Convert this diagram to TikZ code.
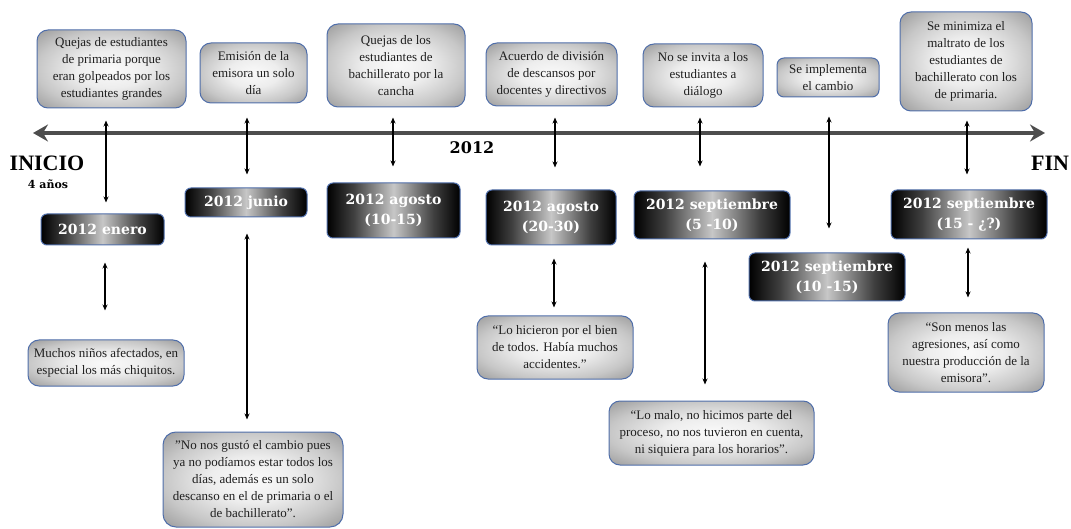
\documentclass[tikz,border=0pt]{standalone}
\usepackage{fontspec}
\setmainfont{Liberation Serif}
\newfontfamily\datefont{DejaVu Serif}
\usetikzlibrary{arrows.meta}

\definecolor{boxblue}{HTML}{4F6EAA}
\definecolor{axisgray}{HTML}{4D4D4D}

% light event boxes: pale centre fading to grey edges
\pgfdeclareradialshading{softbox}{\pgfpoint{0bp}{0bp}}{%
  color(0bp)=(black!2); color(12bp)=(black!7); color(25bp)=(black!22);
  color(36bp)=(black!40); color(50bp)=(black!40)}
% dark date bars: black sides, pale middle
\pgfdeclarehorizontalshading{darkbar}{100bp}{%
  color(0bp)=(black); color(25bp)=(black); color(35bp)=(black!75);
  color(50bp)=(black!22); color(65bp)=(black!75); color(75bp)=(black);
  color(100bp)=(black)}

\tikzset{
  note/.style={draw=boxblue, line width=1pt, rounded corners=11pt,
    shading=softbox, align=center, text=black!88, inner sep=1pt,
    font=\fontsize{13}{17}\selectfont},
  datebox/.style={draw=boxblue, line width=1pt, rounded corners=6pt,
    shading=darkbar, align=center, text=white, inner sep=1pt,
    font=\datefont\fontsize{14}{20}\selectfont\bfseries},
  link/.style={{Stealth[length=6pt,width=5pt]}-{Stealth[length=6pt,width=5pt]},
    line width=1.1pt},
  timeline/.style={draw=axisgray, line width=4pt,
    {Stealth[length=15pt,width=17pt,inset=5pt]}-{Stealth[length=15pt,width=17pt,inset=5pt]}},
  mark label/.style={font=\fontsize{22}{24}\selectfont\bfseries, inner sep=0pt}
}

\begin{document}
\begin{tikzpicture}[x=1pt, y=-1pt]
\useasboundingbox (0,0) rectangle (1071,529);

% main time axis
\coordinate (tlL) at (33,133);
\coordinate (tlR) at (1045,133);
\draw[timeline] (tlL) -- (tlR);

\node[mark label] (inicio) at (47,163) {INICIO};
\node[font=\datefont\fontsize{11}{13}\selectfont\bfseries, inner sep=0pt] (anios) at (48,184) {4 años};
\node[font=\datefont\fontsize{16}{18}\selectfont\bfseries, inner sep=0pt] (year) at (472,148) {2012};
\node[mark label] (fin) at (1050,163) {FIN};

% events above the axis
\node[note, minimum width=149pt, minimum height=78pt] (t1) at (111.5,69)
  {Quejas de estudiantes\\ de primaria porque\\ eran golpeados por los\\ estudiantes grandes};
\node[note, minimum width=107pt, minimum height=60pt] (t2) at (253.5,73)
  {Emisión de la\\ emisora un solo\\ día};
\node[note, minimum width=138pt, minimum height=83pt] (t3) at (396,65.5)
  {Quejas de los\\ estudiantes de\\ bachillerato por la\\ cancha};
\node[note, minimum width=131pt, minimum height=63pt] (t4) at (551.5,74.5)
  {Acuerdo de división\\ de descansos por\\ docentes y directivos};
\node[note, minimum width=120pt, minimum height=63pt] (t5) at (703,75.5)
  {No se invita a los\\ estudiantes a\\ diálogo};
\node[note, minimum width=102pt, minimum height=39pt, rounded corners=7pt] (t6) at (828,77.5)
  {Se implementa\\ el cambio};
\node[note, minimum width=132pt, minimum height=99pt] (t7) at (966,61.5)
  {Se minimiza el\\ maltrato de los\\ estudiantes de\\ bachillerato con los\\ de primaria.};

% dates
\node[datebox, minimum width=123pt, minimum height=31pt] (d1) at (102.5,229.5) {2012 enero};
\node[datebox, minimum width=122pt, minimum height=29pt] (d2) at (246,202.5) {2012 junio};
\node[datebox, minimum width=133pt, minimum height=55pt] (d3) at (393.5,210.5) {2012 agosto\\ (10-15)};
\node[datebox, minimum width=130pt, minimum height=55pt] (d4) at (551,217.5) {2012 agosto\\ (20-30)};
\node[datebox, minimum width=156pt, minimum height=48pt] (d5) at (712,215) {2012 septiembre\\ (5 -10)};
\node[datebox, minimum width=156pt, minimum height=48pt] (d6) at (827,277) {2012 septiembre\\ (10 -15)};
\node[datebox, minimum width=156pt, minimum height=49pt] (d7) at (969,214.5) {2012 septiembre\\ (15 - ¿?)};

% comments below the dates
\node[note, minimum width=156pt, minimum height=46pt] (b1) at (106,363)
  {Muchos niños afectados, en\\ especial los más chiquitos.};
\node[note, minimum width=180pt, minimum height=95pt, rounded corners=13pt] (b2) at (253,479.5)
  {”No nos gustó el cambio pues\\ ya no podíamos estar todos los\\ días, además es un solo\\ descanso en el de primaria o el\\ de bachillerato”.};
\node[note, minimum width=156pt, minimum height=63pt] (b3) at (555,347.5)
  {“Lo hicieron por el bien\\ de todos. Había muchos\\ accidentes.”};
\node[note, minimum width=205pt, minimum height=64pt] (b4) at (711.5,433)
  {“Lo malo, no hicimos parte del\\ proceso, no nos tuvieron en cuenta,\\ ni siquiera para los horarios”.};
\node[note, minimum width=156pt, minimum height=79pt] (b5) at (966,352.5)
  {“Son menos las\\ agresiones, así como\\ nuestra producción de la\\ emisora”.};

% x positions of the connectors
\coordinate (x1) at (106,0);
\coordinate (x2) at (247,0);
\coordinate (x3) at (393,0);
\coordinate (x4) at (555,0);
\coordinate (x5) at (700,0);
\coordinate (x6) at (829,0);
\coordinate (x7) at (967,0);
\coordinate (y1) at (105,0);
\coordinate (y4) at (554,0);
\coordinate (y5) at (705,0);
\coordinate (y7) at (968,0);

% event to date
\draw[link, shorten <=12pt, shorten >=11pt] (t1.south -| x1) -- (d1.north -| x1);
\draw[link, shorten <=14pt, shorten >=13pt] (t2.south -| x2) -- (d2.north -| x2);
\draw[link, shorten <=10pt, shorten >=16pt] (t3.south -| x3) -- (d3.north -| x3);
\draw[link, shorten <=11pt, shorten >=22pt] (t4.south -| x4) -- (d4.north -| x4);
\draw[link, shorten <=10pt, shorten >=24pt] (t5.south -| x5) -- (d5.north -| x5);
\draw[link, shorten <=19pt, shorten >=24pt] (t6.south -| x6) -- (d6.north -| x6);
\draw[link, shorten <=9pt, shorten >=15pt] (t7.south -| x7) -- (d7.north -| x7);

% date to comment
\draw[link, shorten <=17pt, shorten >=29pt] (d1.south -| y1) -- (b1.north -| y1);
\draw[link, shorten <=16pt, shorten >=12pt] (d2.south -| x2) -- (b2.north -| x2);
\draw[link, shorten <=13pt, shorten >=8pt] (d4.south -| y4) -- (b3.north -| y4);
\draw[link, shorten <=22pt, shorten >=16pt] (d5.south -| y5) -- (b4.north -| y5);
\draw[link, shorten <=8pt, shorten >=15pt] (d7.south -| y7) -- (b5.north -| y7);
\end{tikzpicture}
\end{document}
